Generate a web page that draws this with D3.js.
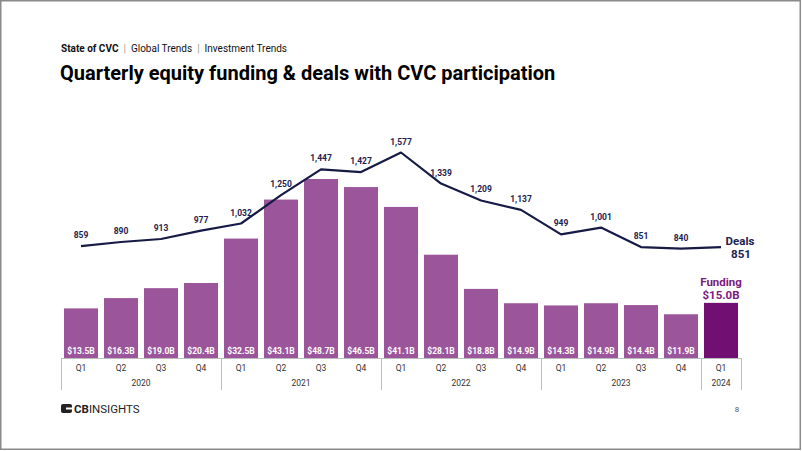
<!DOCTYPE html>
<html><head><meta charset="utf-8">
<script src="https://cdn.jsdelivr.net/npm/d3@7"></script>
<style>
html,body{margin:0;padding:0;background:#fff;}
svg{display:block;font-family:Roboto, "Noto Sans", sans-serif;}
</style></head>
<body>
<svg id="chart" width="802" height="451"></svg>
<script>
const quarters = ["Q1","Q2","Q3","Q4","Q1","Q2","Q3","Q4","Q1","Q2","Q3","Q4","Q1","Q2","Q3","Q4","Q1"];
const years = ["2020","2020","2020","2020","2021","2021","2021","2021","2022","2022","2022","2022","2023","2023","2023","2023","2024"];
const funding = [13.5,16.3,19.0,20.4,32.5,43.1,48.7,46.5,41.1,28.1,18.8,14.9,14.3,14.9,14.4,11.9,15.0];
const deals = [859,890,913,977,1032,1250,1447,1427,1577,1339,1209,1137,949,1001,851,840,851];
const yearGroups = ["2020","2021","2022","2023","2024"];

const svg = d3.select("#chart");
const W = 802, H = 451;
const ids = d3.range(quarters.length);

// frame
svg.append("rect").attr("x",0.75).attr("y",0.75).attr("width",W-2.5).attr("height",H-2.5)
  .attr("fill","none").attr("stroke","#8a8a8a").attr("stroke-width",1.5);

// header
const hdr = svg.append("text").attr("x",61).attr("y",52).attr("font-size",10).attr("fill","#111");
hdr.append("tspan").attr("font-weight",700).text("State of CVC");
hdr.append("tspan").attr("fill","#999").attr("dx",5).text("|");
hdr.append("tspan").attr("dx",5).text("Global Trends");
hdr.append("tspan").attr("fill","#999").attr("dx",5).text("|");
hdr.append("tspan").attr("dx",5).text("Investment Trends");

svg.append("text").attr("x",60).attr("y",80).attr("font-size",20).attr("font-weight",700)
  .attr("fill","#000").text("Quarterly equity funding & deals with CVC participation");

const x = d3.scaleBand().domain(ids).range([61,741]).paddingInner(0.15).paddingOuter(0.075);
const baseY = 358;
const yF = d3.scaleLinear().domain([0,48.7]).range([baseY,179]);
const yD = d3.scaleLinear().domain([0,1577]).range([baseY,152.5]);

// bars
svg.append("g").selectAll("rect").data(ids).join("rect")
  .attr("x",i=>x(i)).attr("width",x.bandwidth())
  .attr("y",i=>yF(funding[i])).attr("height",i=>baseY-yF(funding[i]))
  .attr("fill",i=>i===ids.length-1?"#720f72":"#9b559b");

// bar labels
svg.append("g").selectAll("text").data(ids.slice(0,-1)).join("text")
  .attr("x",i=>x(i)+x.bandwidth()/2).attr("y",354)
  .attr("text-anchor","middle").attr("font-size",8.5).attr("font-weight",700).attr("fill","#fff")
  .text(i=>"$"+funding[i].toFixed(1)+"B");

// axis table
const ax = svg.append("g").attr("stroke","#bdbdbd").attr("stroke-width",1);
ax.append("line").attr("x1",61).attr("x2",741).attr("y1",baseY+0.5).attr("y2",baseY+0.5);
const groupBounds = yearGroups.map(yr=>{
  const idx = ids.filter(i=>years[i]===yr);
  const step = x.step();
  const l = x(idx[0]) - x.paddingInner()*step/2;
  const r = x(idx[idx.length-1]) + x.bandwidth() + x.paddingInner()*step/2;
  return {yr, l: Math.max(61,l), r: Math.min(741,r)};
});
const edges = [61].concat(groupBounds.map(g=>g.r));
edges.forEach((e,k)=>{
  const xe = k===edges.length-1 ? 741 : e;
  ax.append("line").attr("x1",Math.round(xe)+0.5).attr("x2",Math.round(xe)+0.5).attr("y1",baseY).attr("y2",390);
});
svg.append("g").selectAll("text").data(ids).join("text")
  .attr("x",i=>x(i)+x.bandwidth()/2).attr("y",371)
  .attr("text-anchor","middle").attr("font-size",8.5).attr("fill","#333")
  .text(i=>quarters[i]);
svg.append("g").selectAll("text").data(groupBounds).join("text")
  .attr("x",g=>(g.l+g.r)/2).attr("y",386)
  .attr("text-anchor","middle").attr("font-size",8.5).attr("fill","#333")
  .text(g=>g.yr);

// line
const line = d3.line().x(i=>x(i)+x.bandwidth()/2).y(i=>yD(deals[i]));
svg.append("path").datum(ids).attr("d",line).attr("fill","none")
  .attr("stroke","#161a45").attr("stroke-width",2.2).attr("stroke-linejoin","round");

svg.append("g").selectAll("text").data(ids.slice(0,-1)).join("text")
  .attr("x",i=>x(i)+x.bandwidth()/2).attr("y",i=>yD(deals[i])-8)
  .attr("text-anchor","middle").attr("font-size",8.5).attr("font-weight",700).attr("fill","#1d2150")
  .text(i=>d3.format(",")(deals[i]));

// end labels
const last = ids.length-1;
const lx = x(last)+x.bandwidth()/2;
svg.append("text").attr("x",lx+19).attr("y",yD(deals[last])-2).attr("font-size",11.5).attr("font-weight",700)
  .attr("fill","#1d2150").attr("text-anchor","middle").text("Deals");
svg.append("text").attr("x",lx+20).attr("y",yD(deals[last])+11).attr("font-size",11.5).attr("font-weight",700)
  .attr("fill","#1d2150").attr("text-anchor","middle").text(d3.format(",")(deals[last]));
svg.append("text").attr("x",lx).attr("y",yF(funding[last])-17).attr("font-size",11.5).attr("font-weight",700)
  .attr("fill","#7b1a7b").attr("text-anchor","middle").text("Funding");
svg.append("text").attr("x",lx).attr("y",yF(funding[last])-4).attr("font-size",11.5).attr("font-weight",700)
  .attr("fill","#7b1a7b").attr("text-anchor","middle").text("$"+funding[last].toFixed(1)+"B");

// logo
const logo = svg.append("g").attr("transform","translate(61,404)");
logo.append("rect").attr("x",0).attr("y",0).attr("width",11).attr("height",9).attr("rx",2).attr("fill","#222");
logo.append("rect").attr("x",5).attr("y",3.5).attr("width",6).attr("height",2).attr("fill","#fff");
const lt = logo.append("text").attr("x",13).attr("y",9).attr("font-size",11.5).attr("fill","#222");
lt.append("tspan").attr("font-weight",700).text("CB");
lt.append("tspan").text("INSIGHTS");

svg.append("text").attr("x",737).attr("y",412).attr("font-size",8).attr("fill","#555")
  .attr("text-anchor","middle").text("8");
</script>
</body></html>
